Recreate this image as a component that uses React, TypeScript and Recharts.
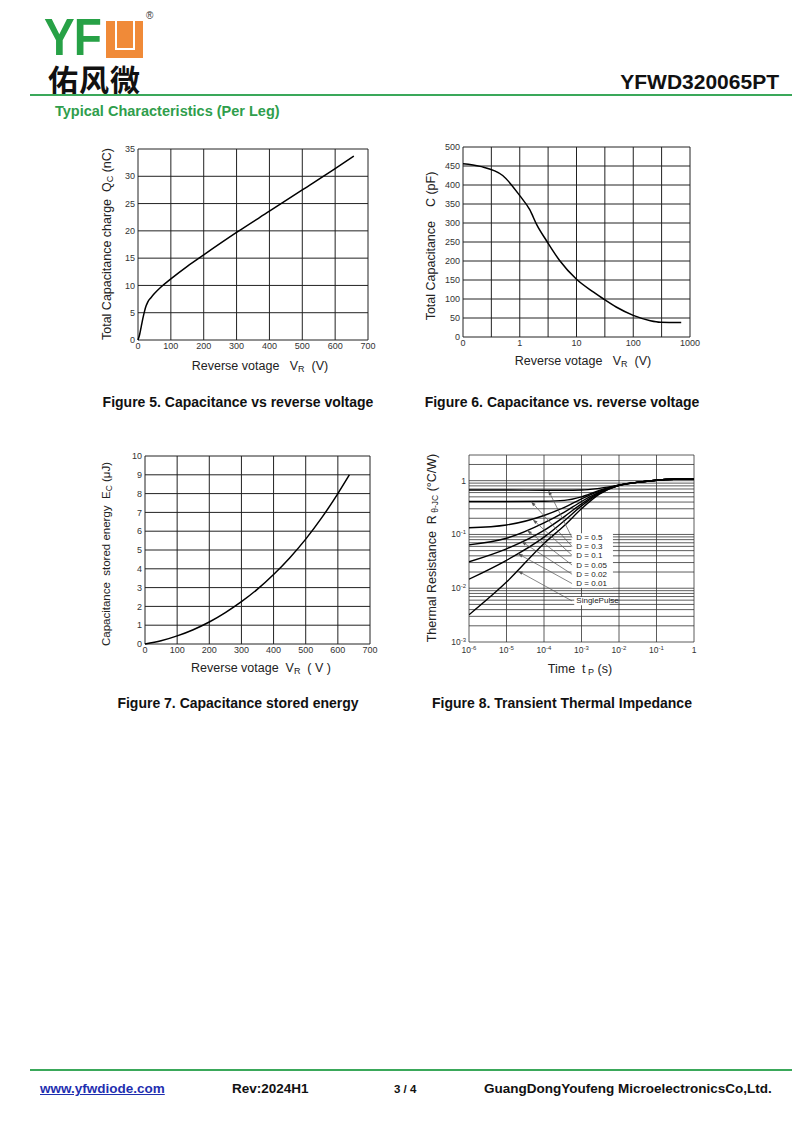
import React from 'react';
import {
  LineChart,
  Line,
  XAxis,
  YAxis,
  CartesianGrid,
  ReferenceLine,
  ReferenceArea,
  ReferenceDot,
} from 'recharts';

const FONT = "'Liberation Sans', Arial, sans-serif";
const GREEN = '#2f9e4c';
const GRID = '#222';

// Figure 5: total capacitance charge vs reverse voltage
const qcVoltage = [0, 5, 10, 15, 20, 25, 30, 40, 50, 70, 100, 150, 200, 300, 400, 500, 600, 657];
const qcCharge = [0, 1.0, 2.5, 4.0, 5.3, 6.3, 7.0, 7.8, 8.5, 9.7, 11.2, 13.5, 15.6, 19.7, 23.6, 27.5, 31.4, 33.7];
const qcXTicks = [0, 100, 200, 300, 400, 500, 600, 700];
const qcYTicks = [0, 5, 10, 15, 20, 25, 30, 35];

// Figure 6: total capacitance vs reverse voltage (log x)
const capVoltage = [0.1, 0.2, 0.5, 1, 1.5, 2, 3, 5, 10, 20, 30, 50, 100, 200, 300, 700];
const capValue = [456, 449, 425, 372, 335, 295, 252, 202, 152, 118, 100, 79, 57, 43, 39, 38];
const capXTicks = [0.1, 0.316, 1, 3.16, 10, 31.6, 100, 316, 1000];
const capXLabels = ['0', '', '1', '', '10', '', '100', '', '1000'];
const capYTicks = [0, 50, 100, 150, 200, 250, 300, 350, 400, 450, 500];

// Figure 7: capacitance stored energy
const ecVoltage = [0, 50, 100, 150, 200, 250, 300, 350, 400, 450, 500, 550, 600, 636];
const ecEnergy = [0, 0.17, 0.43, 0.76, 1.17, 1.67, 2.25, 2.92, 3.7, 4.58, 5.58, 6.72, 8.0, 9.0];
const ecXTicks = [0, 100, 200, 300, 400, 500, 600, 700];
const ecYTicks = [0, 1, 2, 3, 4, 5, 6, 7, 8, 9, 10];

// Figure 8: transient thermal impedance
const zthTime = [1e-6, 1e-5, 1e-4, 3.5e-4, 1e-3, 3e-3, 1e-2, 3e-2, 1e-1, 3e-1, 1];
const zthD05 = [0.67, 0.67, 0.665, 0.665, 0.67, 0.72, 0.82, 0.93, 1.02, 1.06, 1.07];
const zthD03 = [0.41, 0.41, 0.415, 0.43, 0.5, 0.66, 0.82, 0.93, 1.02, 1.06, 1.07];
const zthD01 = [0.133, 0.15, 0.225, 0.32, 0.46, 0.64, 0.82, 0.93, 1.02, 1.06, 1.07];
const zthD005 = [0.064, 0.085, 0.164, 0.26, 0.41, 0.61, 0.82, 0.93, 1.02, 1.06, 1.07];
const zthD002 = [0.031, 0.054, 0.119, 0.215, 0.37, 0.6, 0.82, 0.93, 1.02, 1.06, 1.07];
const zthD001 = [0.0147, 0.033, 0.089, 0.18, 0.34, 0.58, 0.82, 0.93, 1.02, 1.06, 1.07];
const zthSingle = [0.0032, 0.013, 0.068, 0.147, 0.3, 0.56, 0.82, 0.93, 1.02, 1.06, 1.07];
const zthLabels = ['D = 0.5', 'D = 0.3', 'D = 0.1', 'D = 0.05', 'D = 0.02', 'D = 0.01', 'SinglePulse'];
const zthLabelLevel = [0.087, 0.06, 0.041, 0.027, 0.0182, 0.0122, 0.0058];
const zthArrowTime = [1.3e-4, 4.5e-5, 5e-5, 3.5e-5, 2.5e-5, 2e-5, 2e-5];
const zthArrowLevel = [0.665, 0.41, 0.19, 0.12, 0.074, 0.044, 0.021];
const zthLabelTime = 7.3e-4;
const zthArrowStart = 5.6e-4;
const zthXTicks = [1e-6, 1e-5, 1e-4, 1e-3, 1e-2, 1e-1, 1];
const zthDecades = [1e-3, 1e-2, 1e-1];
const zthMantissas = [1, 2, 3, 4, 5, 6, 7, 8, 9];
const zthYTicks = [...zthDecades.flatMap((d) => zthMantissas.map((m) => m * d)), 1, 2, 3];

const qcData = qcVoltage.map((v, i) => ({ v, q: qcCharge[i] }));
const capData = capVoltage.map((v, i) => ({ v, c: capValue[i] }));
const ecData = ecVoltage.map((v, i) => ({ v, e: ecEnergy[i] }));
const zthKeys = ['d05', 'd03', 'd01', 'd005', 'd002', 'd001', 'single'];
const zthValues = [zthD05, zthD03, zthD01, zthD005, zthD002, zthD001, zthSingle];
const zthData = zthTime.map((t, i) => {
  const row: Record<string, number> = { t };
  zthKeys.forEach((k, j) => (row[k] = zthValues[j][i]));
  return row;
});

const PAD = { left: 50, top: 10, right: 20, bottom: 45 };

function frame(left: number, top: number, w: number, h: number) {
  return {
    style: { position: 'absolute' as const, left: left - PAD.left, top: top - PAD.top },
    width: w + PAD.left + PAD.right,
    height: h + PAD.top + PAD.bottom,
  };
}

const tickStyle = { fontSize: 9, fill: '#333', fontFamily: FONT };

function PowTick({ x, y, payload, side }: any) {
  const e = Math.log10(payload.value);
  if (Math.abs(e - Math.round(e)) > 1e-6) return <g />;
  const n = Math.round(e);
  const isX = side === 'x';
  return (
    <text
      x={x}
      y={y}
      dy={isX ? 8 : 3}
      textAnchor={isX ? 'middle' : 'end'}
      fontSize={8.5}
      fill="#333"
      fontFamily={FONT}
    >
      {n === 0 ? '1' : (
        <>
          10<tspan dy={-3.5} fontSize={6}>{n}</tspan>
        </>
      )}
    </text>
  );
}

function Arrow(props: any) {
  const { x1, y1, x2, y2 } = props;
  const a = Math.atan2(y2 - y1, x2 - x1);
  const L = 5;
  const W = 1.7;
  const bx = x2 - L * Math.cos(a);
  const by = y2 - L * Math.sin(a);
  const px = -Math.sin(a) * W;
  const py = Math.cos(a) * W;
  return (
    <g>
      <line x1={x1} y1={y1} x2={bx} y2={by} stroke="#555" strokeWidth={0.7} />
      <polygon points={`${x2},${y2} ${bx + px},${by + py} ${bx - px},${by - py}`} fill="#555" />
    </g>
  );
}

function LabelText(text: string) {
  return (props: any) => (
    <text
      x={props.cx}
      y={props.cy}
      dominantBaseline="central"
      fontSize={8}
      fill="#222"
      fontFamily={FONT}
    >
      {text}
    </text>
  );
}

function Fig5() {
  const f = frame(138, 149, 230, 191);
  return (
    <div style={f.style}>
      <LineChart width={f.width} height={f.height} data={qcData} margin={{ top: 10, right: 20, left: 0, bottom: 0 }}>
        <CartesianGrid stroke={GRID} strokeWidth={1} />
        <XAxis dataKey="v" type="number" domain={[0, 700]} ticks={qcXTicks} interval={0} height={45}
          axisLine={false} tickLine={false} tickSize={2} tickMargin={1} tick={tickStyle} />
        <YAxis type="number" domain={[0, 35]} ticks={qcYTicks} interval={0} width={50}
          axisLine={false} tickLine={false} tickSize={2} tickMargin={1} tick={tickStyle} />
        <Line type="monotone" dataKey="q" stroke="#000" strokeWidth={1.5} dot={false} isAnimationActive={false} />
      </LineChart>
    </div>
  );
}

function Fig6() {
  const f = frame(463, 147, 227, 190);
  return (
    <div style={f.style}>
      <LineChart width={f.width} height={f.height} data={capData} margin={{ top: 10, right: 20, left: 0, bottom: 0 }}>
        <CartesianGrid stroke={GRID} strokeWidth={1} />
        <XAxis dataKey="v" type="number" scale="log" domain={[0.1, 1000]} ticks={capXTicks} interval={0}
          allowDataOverflow height={45} axisLine={false} tickLine={false} tickSize={2} tickMargin={1}
          tick={tickStyle} tickFormatter={(v: number) => capXLabels[capXTicks.indexOf(v)] ?? ''} />
        <YAxis type="number" domain={[0, 500]} ticks={capYTicks} interval={0} width={50}
          axisLine={false} tickLine={false} tickSize={2} tickMargin={1} tick={tickStyle} />
        <Line type="monotone" dataKey="c" stroke="#000" strokeWidth={1.5} dot={false} isAnimationActive={false} />
      </LineChart>
    </div>
  );
}

function Fig7() {
  const f = frame(145, 456, 225, 188);
  return (
    <div style={f.style}>
      <LineChart width={f.width} height={f.height} data={ecData} margin={{ top: 10, right: 20, left: 0, bottom: 0 }}>
        <CartesianGrid stroke={GRID} strokeWidth={1} />
        <XAxis dataKey="v" type="number" domain={[0, 700]} ticks={ecXTicks} interval={0} height={45}
          axisLine={false} tickLine={false} tickSize={2} tickMargin={1} tick={tickStyle} />
        <YAxis type="number" domain={[0, 10]} ticks={ecYTicks} interval={0} width={50}
          axisLine={false} tickLine={false} tickSize={2} tickMargin={1} tick={tickStyle} />
        <Line type="monotone" dataKey="e" stroke="#000" strokeWidth={1.5} dot={false} isAnimationActive={false} />
      </LineChart>
    </div>
  );
}

function Fig8() {
  const f = frame(469, 455, 225, 187);
  return (
    <div style={f.style}>
      <LineChart width={f.width} height={f.height} data={zthData} margin={{ top: 10, right: 20, left: 0, bottom: 0 }}>
        <CartesianGrid stroke="#333" strokeWidth={0.8} />
        <XAxis dataKey="t" type="number" scale="log" domain={[1e-6, 1]} ticks={zthXTicks} interval={0}
          allowDataOverflow height={45} axisLine={false} tickLine={false} tickSize={2} tickMargin={1}
          tick={(p: any) => <PowTick {...p} side="x" />} />
        <YAxis type="number" scale="log" domain={[1e-3, 3]} ticks={zthYTicks} interval={0}
          allowDataOverflow width={50} axisLine={false} tickLine={false} tickSize={2} tickMargin={1}
          tick={(p: any) => <PowTick {...p} side="y" />} />
        <ReferenceArea x1={5.4e-4} x2={6.9e-3} y1={0.0102} y2={0.105} fill="#fff" fillOpacity={1} stroke="none" />
        <ReferenceArea x1={6.4e-4} x2={5.6e-3} y1={0.0048} y2={0.0069} fill="#fff" fillOpacity={1} stroke="none" />
        {zthKeys.map((k) => (
          <Line key={k} type="monotone" dataKey={k} stroke="#000" strokeWidth={1.4} dot={false} isAnimationActive={false} />
        ))}
        {zthLabels.map((lab, i) => (
          <ReferenceLine
            key={'a' + i}
            segment={[
              { x: zthArrowStart, y: zthLabelLevel[i] },
              { x: zthArrowTime[i], y: zthArrowLevel[i] },
            ]}
            shape={Arrow}
          />
        ))}
        {zthLabels.map((lab, i) => (
          <ReferenceDot key={'l' + i} x={zthLabelTime} y={zthLabelLevel[i]} r={0} shape={LabelText(lab)} />
        ))}
      </LineChart>
    </div>
  );
}

const titleText = { fontSize: 12.5, fill: '#222', fontFamily: FONT, style: { whiteSpace: 'pre' as const } };

function AxisTitles() {
  return (
    <svg width={800} height={1131} style={{ position: 'absolute', left: 0, top: 0, pointerEvents: 'none' }}>
      {/* Fig 5 */}
      <text {...titleText} x={107} y={244} textAnchor="middle" dominantBaseline="central" transform="rotate(-90 107 244)">
        Total Capacitance charge  Q<tspan dy={3} fontSize={9}>C</tspan><tspan dy={-3}> (nC)</tspan>
      </text>
      <text {...titleText} x={260} y={366} textAnchor="middle" dominantBaseline="central">
        Reverse votage   V<tspan dy={3} fontSize={9}>R</tspan><tspan dy={-3}>  (V)</tspan>
      </text>
      {/* Fig 6 */}
      <text {...titleText} x={431} y={246} textAnchor="middle" dominantBaseline="central" transform="rotate(-90 431 246)">
        Total Capacitance    C (pF)
      </text>
      <text {...titleText} x={583} y={361} textAnchor="middle" dominantBaseline="central">
        Reverse votage   V<tspan dy={3} fontSize={9}>R</tspan><tspan dy={-3}>  (V)</tspan>
      </text>
      {/* Fig 7 */}
      <text {...titleText} fontSize={11.5} x={106} y={554} textAnchor="middle" dominantBaseline="central" transform="rotate(-90 106 554)">
        Capacitance  stored energy  E<tspan dy={3} fontSize={8.5}>C</tspan><tspan dy={-3}> (μJ)</tspan>
      </text>
      <text {...titleText} x={261} y={668} textAnchor="middle" dominantBaseline="central">
        Reverse votage  V<tspan dy={3} fontSize={9}>R</tspan><tspan dy={-3}>  ( V )</tspan>
      </text>
      {/* Fig 8 */}
      <text {...titleText} x={432} y={548} textAnchor="middle" dominantBaseline="central" transform="rotate(-90 432 548)">
        Thermal Resistance  R<tspan dy={3} fontSize={8.5}> θ-JC</tspan><tspan dy={-3}> (°C/W)</tspan>
      </text>
      <text {...titleText} x={580} y={669} textAnchor="middle" dominantBaseline="central">
        Time  t<tspan dy={3} fontSize={9}> P</tspan><tspan dy={-3}> (s)</tspan>
      </text>
    </svg>
  );
}

const caption = {
  position: 'absolute' as const,
  width: 320,
  textAlign: 'center' as const,
  fontFamily: FONT,
  fontWeight: 700,
  fontSize: 14,
  color: '#111',
};

const footText = {
  position: 'absolute' as const,
  top: 1081,
  fontFamily: FONT,
  fontWeight: 700,
  fontSize: 13.5,
  lineHeight: 1.2,
  color: '#111',
};

export default function App() {
  return (
    <div style={{ position: 'absolute', left: 0, top: 0, width: 800, height: 1131, background: '#fff', overflow: 'hidden' }}>
      {/* logo */}
      <div style={{ position: 'absolute', left: 44, top: 15, fontFamily: FONT, fontWeight: 700, fontSize: 46, lineHeight: '40px', height: 40, color: '#27a146', letterSpacing: -1, transform: 'scaleY(1.12)', transformOrigin: 'top left' }}>
        YF
      </div>
      <div style={{ position: 'absolute', left: 106, top: 21, width: 37, height: 37, background: '#f08a38' }}>
        <div style={{ position: 'absolute', left: 9, top: 0, width: 16, height: 27, borderLeft: '2px solid #fff', borderRight: '2px solid #fff', borderBottom: '2px solid #fff' }} />
      </div>
      <div style={{ position: 'absolute', left: 146, top: 11, fontFamily: FONT, fontSize: 10, lineHeight: 1, color: '#333' }}>®</div>
      <div style={{ position: 'absolute', left: 48, top: 62, fontFamily: "'Noto Sans CJK SC'", fontWeight: 700, fontSize: 30, lineHeight: '32px', color: '#111', letterSpacing: 1 }}>
        佑风微
      </div>
      <div style={{ position: 'absolute', right: 21, top: 70, fontFamily: FONT, fontWeight: 700, fontSize: 21, color: '#111' }}>
        YFWD320065PT
      </div>
      <div style={{ position: 'absolute', left: 30, top: 94, width: 762, height: 2, background: '#3aa85a' }} />
      <div style={{ position: 'absolute', left: 55, top: 103, fontFamily: FONT, fontWeight: 700, fontSize: 14.5, color: GREEN }}>
        Typical Characteristics (Per Leg)
      </div>

      <Fig5 />
      <Fig6 />
      <Fig7 />
      <Fig8 />
      <AxisTitles />

      <div style={{ ...caption, left: 78, top: 394 }}>Figure 5. Capacitance vs reverse voltage</div>
      <div style={{ ...caption, left: 402, top: 394 }}>Figure 6. Capacitance vs. reverse voltage</div>
      <div style={{ ...caption, left: 78, top: 695 }}>Figure 7. Capacitance stored energy</div>
      <div style={{ ...caption, left: 402, top: 695 }}>Figure 8. Transient Thermal Impedance</div>

      {/* footer */}
      <div style={{ position: 'absolute', left: 30, top: 1069, width: 762, height: 2, background: '#3aa85a' }} />
      <div style={{ ...footText, left: 40, color: '#1f2fb0', textDecoration: 'underline' }}>www.yfwdiode.com</div>
      <div style={{ ...footText, left: 232 }}>Rev:2024H1</div>
      <div style={{ ...footText, left: 394, fontSize: 11.5, top: 1083 }}>3 / 4</div>
      <div style={{ ...footText, left: 484 }}>GuangDongYoufeng MicroelectronicsCo,Ltd.</div>
    </div>
  );
}
